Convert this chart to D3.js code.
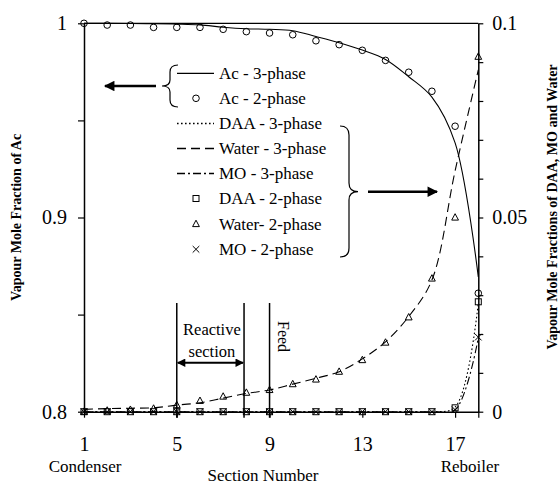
<!DOCTYPE html>
<html>
<head>
<meta charset="utf-8">
<script src="https://cdn.jsdelivr.net/npm/d3@7"></script>
<style>
  html, body { margin: 0; padding: 0; background: #fff; }
  svg { display: block; }
  text { font-family: "Liberation Serif", "Times New Roman", serif; fill: #000; }
</style>
</head>
<body>
<svg id="chart" width="560" height="486"></svg>
<script>
// Column sections, condenser (1) to reboiler (18)
const stages = [1, 2, 3, 4, 5, 6, 7, 8, 9, 10, 11, 12, 13, 14, 15, 16, 17, 18];

// Vapour mole fraction of Ac (left axis)
const acThreePhase = [1.0, 1.0, 0.9999, 0.9998, 0.9996, 0.9992, 0.9980, 0.9972, 0.9969, 0.9962,
                      0.9932, 0.9900, 0.9862, 0.9814, 0.9725, 0.9620, 0.9384, 0.8694];
const acTwoPhase   = [1.0, 0.9991, 0.9991, 0.9979, 0.9979, 0.9979, 0.9969, 0.9957, 0.9950, 0.9941,
                      0.9910, 0.9890, 0.9861, 0.9809, 0.9748, 0.9650, 0.9470, 0.861];

// Vapour mole fractions of DAA, MO and water (right axis)
const daaThreePhase   = [0, 0, 0, 0, 0, 0, 0, 0, 0, 0, 0, 0, 0, 0, 0, 0, 0.0012, 0.028];
const waterThreePhase = [0.0006, 0.0008, 0.0009, 0.0010, 0.0017, 0.0023, 0.0035, 0.0047, 0.0056, 0.0071,
                         0.0086, 0.0103, 0.0136, 0.0180, 0.0245, 0.0339, 0.0620, 0.0880];
const moThreePhase    = [0, 0, 0, 0, 0, 0, 0, 0, 0, 0, 0, 0, 0, 0, 0, 0, 0.0005, 0.019];
const daaTwoPhase     = [0, 0, 0, 0, 0, 0, 0, 0, 0, 0, 0, 0, 0, 0, 0, 0, 0.0010, 0.0283];
const waterTwoPhase   = [0, 0.0003, 0.0005, 0.0008, 0.0017, 0.0028, 0.0039, 0.0049, 0.0056, 0.0071,
                         0.0083, 0.0103, 0.0133, 0.0178, 0.0243, 0.0343, 0.0500, 0.0914];
const moTwoPhase      = [0, 0, 0, 0, 0, 0, 0, 0, 0, 0, 0, 0, 0, 0, 0, 0, 0.0005, 0.0192];

// Axis ticks and labels
const xTicks = [1, 5, 9, 13, 17, 18];
const xTickLabels = ["1", "5", "9", "13", "17", ""];
const leftTicks = [0.8, 0.85, 0.9, 0.95, 1];
const leftTickLabels = ["0.8", "", "0.9", "", "1"];
const rightTicks = [0, 0.01, 0.02, 0.03, 0.04, 0.05, 0.06, 0.07, 0.08, 0.09, 0.1];
const rightTickLabels = ["0", "", "", "", "", "0.05", "", "", "", "", "0.1"];

// Annotated sections: reactive section bounds and feed section
const reactiveBounds = [5, 7.9];
const feedStage = 9;

const legendLabels = ["Ac - 3-phase", "Ac - 2-phase", "DAA - 3-phase", "Water - 3-phase",
                      "MO - 3-phase", "DAA - 2-phase", "Water- 2-phase", "MO - 2-phase"];

const svg = d3.select("#chart");
const plotLeft = 84, plotRight = 478.3, plotTop = 23.3, plotBottom = 411.7;

const x = d3.scaleLinear().domain([1, 18]).range([plotLeft, plotRight]);
const yL = d3.scaleLinear().domain([0.8, 1]).range([plotBottom, plotTop]);
const yR = d3.scaleLinear().domain([0, 0.1]).range([plotBottom, plotTop]);

const FONT = '"Liberation Serif", "Times New Roman", serif';

// Frame top edge
svg.append("line").attr("x1", plotLeft).attr("x2", plotRight).attr("y1", plotTop).attr("y2", plotTop)
  .attr("stroke", "#000").attr("stroke-width", 1.2);

function styleAxis(g) {
  g.attr("font-family", FONT).attr("font-size", 20);
  g.selectAll(".domain").attr("stroke", "#000").attr("stroke-width", 1.5);
  g.selectAll(".tick line").attr("stroke", "#000").attr("stroke-width", 1.2);
  g.selectAll(".tick text").attr("fill", "#000");
}

svg.append("g").attr("transform", `translate(0,${plotBottom})`)
  .call(d3.axisBottom(x).tickValues(xTicks).tickSizeInner(6).tickSizeOuter(0).tickPadding(19)
    .tickFormat((d, i) => xTickLabels[i]))
  .call(styleAxis);

svg.append("g").attr("transform", `translate(${plotLeft},0)`)
  .call(d3.axisLeft(yL).tickValues(leftTicks).tickSizeInner(6).tickSizeOuter(0).tickPadding(11)
    .tickFormat((d, i) => leftTickLabels[i]))
  .call(styleAxis);

svg.append("g").attr("transform", `translate(${plotRight},0)`)
  .call(d3.axisRight(yR).tickValues(rightTicks).tickSizeInner(5).tickSizeOuter(0).tickPadding(9)
    .tickFormat((d, i) => rightTickLabels[i]))
  .call(styleAxis);

// Axis titles
svg.append("text")
  .attr("transform", `translate(21,${(plotTop + plotBottom) / 2}) rotate(-90)`)
  .attr("text-anchor", "middle").attr("font-size", 14).attr("font-weight", "bold")
  .text("Vapour Mole Fraction of Ac");

svg.append("text")
  .attr("transform", `translate(557,207) rotate(-90)`)
  .attr("text-anchor", "middle").attr("font-size", 14).attr("font-weight", "bold")
  .text("Vapour Mole Fractions of DAA, MO and Water");

svg.append("text").attr("x", 263).attr("y", 480.5)
  .attr("text-anchor", "middle").attr("font-size", 17).text("Section Number");
svg.append("text").attr("x", 85).attr("y", 472)
  .attr("text-anchor", "middle").attr("font-size", 17).text("Condenser");
svg.append("text").attr("x", 470).attr("y", 472)
  .attr("text-anchor", "middle").attr("font-size", 17).text("Reboiler");

// Arrowhead marker
const defs = svg.append("defs");
defs.append("marker").attr("id", "head")
  .attr("viewBox", "0 0 10 10").attr("refX", 9).attr("refY", 5)
  .attr("markerWidth", 5).attr("markerHeight", 4.2).attr("orient", "auto-start-reverse")
  .attr("markerUnits", "strokeWidth")
  .append("path").attr("d", "M0,0 L10,5 L0,10 Z").attr("fill", "#000");

// Reactive section and feed annotations
const annTop = 303;
reactiveBounds.concat([feedStage]).forEach(s => {
  svg.append("line").attr("x1", x(s)).attr("x2", x(s)).attr("y1", plotBottom + 6).attr("y2", annTop)
    .attr("stroke", "#000").attr("stroke-width", 1.5);
});
svg.append("line")
  .attr("x1", x(reactiveBounds[0]) + 1).attr("x2", x(reactiveBounds[1]) - 1)
  .attr("y1", 362.7).attr("y2", 362.7)
  .attr("stroke", "#000").attr("stroke-width", 2)
  .attr("marker-start", "url(#head)").attr("marker-end", "url(#head)");
const midReactive = (x(reactiveBounds[0]) + x(reactiveBounds[1])) / 2 + 1.5;
svg.append("text").attr("x", midReactive).attr("y", 335).attr("text-anchor", "middle")
  .attr("font-size", 16.5).text("Reactive");
svg.append("text").attr("x", midReactive).attr("y", 356.5).attr("text-anchor", "middle")
  .attr("font-size", 16.5).text("section");
svg.append("text").attr("transform", `translate(${x(feedStage) + 8},321) rotate(90)`)
  .attr("font-size", 16).text("Feed");

// Series lines
const curve = d3.curveCatmullRom.alpha(0.5);
function drawLine(values, yScale, dash) {
  const line = d3.line().x((d, i) => x(stages[i])).y(d => yScale(d)).curve(curve);
  svg.append("path").datum(values).attr("d", line)
    .attr("fill", "none").attr("stroke", "#000").attr("stroke-width", 1.1)
    .attr("stroke-dasharray", dash);
}
drawLine(daaThreePhase, yR, "1.6,2.4");
drawLine(moThreePhase, yR, "8,3,2,3");
drawLine(waterThreePhase, yR, "9,5");
drawLine(acThreePhase, yL, null);

// Marker shapes
const markerShapes = {
  circle: (g) => g.append("circle").attr("r", 3.3),
  square: (g) => g.append("rect").attr("x", -3).attr("y", -3).attr("width", 6).attr("height", 6),
  triangle: (g) => g.append("path").attr("d", "M0,-3.8 L3.4,2.6 L-3.4,2.6 Z"),
  cross: (g) => g.append("path").attr("d", "M-3.3,-3.3 L3.3,3.3 M-3.3,3.3 L3.3,-3.3")
};
function drawMarkers(values, yScale, shape) {
  values.forEach((v, i) => {
    const g = svg.append("g").attr("transform", `translate(${x(stages[i])},${yScale(v)})`);
    markerShapes[shape](g).attr("fill", "none").attr("stroke", "#000").attr("stroke-width", 1);
  });
}
drawMarkers(acTwoPhase, yL, "circle");
drawMarkers(daaTwoPhase, yR, "square");
drawMarkers(waterTwoPhase, yR, "triangle");
drawMarkers(moTwoPhase, yR, "cross");

// Legend
const legendRows = [73.3, 98.3, 123.5, 148.5, 173.5, 198.5, 224, 249.3];
const legendKeys = [
  { type: "line", dash: null }, { type: "marker", shape: "circle" },
  { type: "line", dash: "1.6,2.4" }, { type: "line", dash: "9,5" },
  { type: "line", dash: "8,3,2,3" }, { type: "marker", shape: "square" },
  { type: "marker", shape: "triangle" }, { type: "marker", shape: "cross" }
];
legendLabels.forEach((label, i) => {
  const yy = legendRows[i];
  const k = legendKeys[i];
  if (k.type === "line") {
    svg.append("line").attr("x1", 177).attr("x2", 214).attr("y1", yy).attr("y2", yy)
      .attr("stroke", "#000").attr("stroke-width", 1.3).attr("stroke-dasharray", k.dash);
  } else {
    const g = svg.append("g").attr("transform", `translate(196,${yy})`);
    markerShapes[k.shape](g).attr("fill", "none").attr("stroke", "#000").attr("stroke-width", 1);
  }
  svg.append("text").attr("x", 219).attr("y", yy).attr("dy", "0.33em")
    .attr("font-size", 17).text(label);
});

// Braces grouping the legend entries, with arrows toward their axes
svg.append("path")
  .attr("d", "M178,65 Q170,65 170,72 L170,80 Q170,86 162,86 Q170,86 170,92 L170,100 Q170,107 178,107")
  .attr("fill", "none").attr("stroke", "#000").attr("stroke-width", 1.2);
svg.append("path")
  .attr("d", "M340,126 Q349,126 349,135 L349,183 Q349,191.7 358,191.7 Q349,191.7 349,200 L349,248 Q349,257 340,257")
  .attr("fill", "none").attr("stroke", "#000").attr("stroke-width", 1.2);
svg.append("line").attr("x1", 156).attr("x2", 105).attr("y1", 86).attr("y2", 86)
  .attr("stroke", "#000").attr("stroke-width", 2.5).attr("marker-end", "url(#head)");
svg.append("line").attr("x1", 368).attr("x2", 437).attr("y1", 191.7).attr("y2", 191.7)
  .attr("stroke", "#000").attr("stroke-width", 2.5).attr("marker-end", "url(#head)");
</script>
</body>
</html>
